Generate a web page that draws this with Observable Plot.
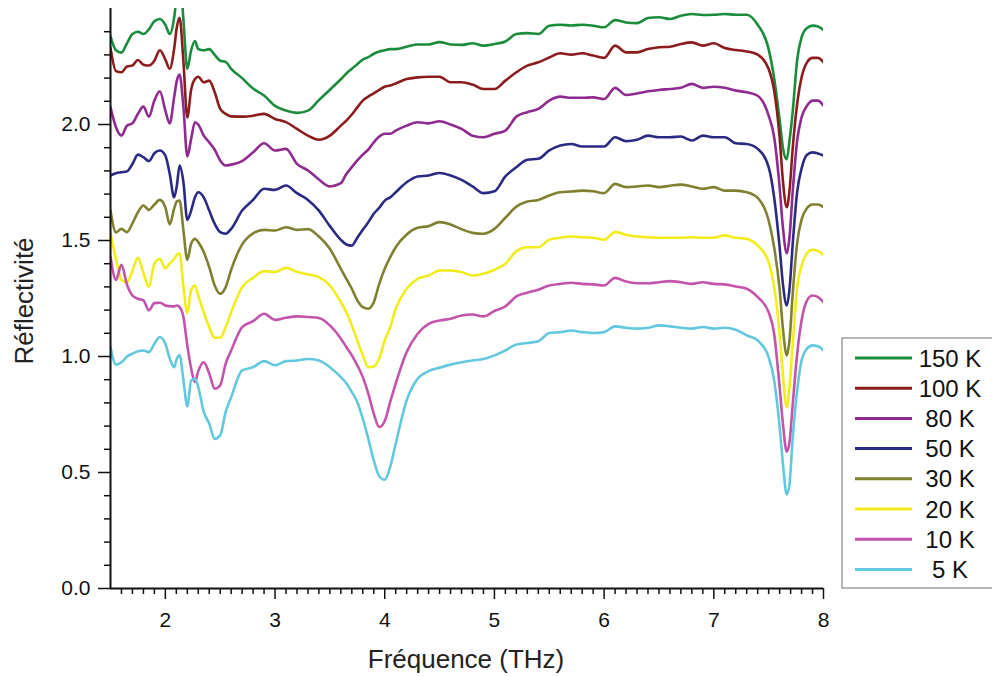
<!DOCTYPE html>
<html>
<head>
<meta charset="utf-8">
<script src="https://cdn.jsdelivr.net/npm/d3@7"></script>
<script src="https://cdn.jsdelivr.net/npm/@observablehq/plot@0.6"></script>
<style>
  body { margin: 0; background: #fff; }
  #chart { position: relative; width: 992px; height: 677px; overflow: hidden; }
</style>
</head>
<body>
<div id="chart"></div>
<script>
// ---- Data ----
const freq = [1.5,1.55,1.6,1.65,1.7,1.75,1.8,1.85,1.9,1.95,2.0,2.04,2.08,2.105,2.13,2.165,2.2,2.235,2.27,
  2.3,2.35,2.4,2.45,2.5,2.55,2.6,2.7,2.8,2.9,3.0,3.1,3.2,3.3,3.4,3.5,3.6,3.65,3.7,3.75,3.8,3.85,3.9,3.95,
  4.0,4.05,4.1,4.2,4.3,4.4,4.5,4.6,4.7,4.8,4.9,5.0,5.1,5.2,5.3,5.4,5.5,5.6,5.7,5.8,5.9,6.0,6.1,6.2,6.3,
  6.4,6.5,6.6,6.7,6.8,6.9,7.0,7.1,7.2,7.3,7.4,7.5,7.55,7.6,7.63,7.665,7.69,7.72,7.76,7.8,7.85,7.9,7.95,8.0];

const seriesNames = ["150 K","100 K","80 K","50 K","30 K","20 K","10 K","5 K"];
const seriesColors = ["#1a8c3c","#8c1c1c","#8e2a90","#2a2a85","#808030","#f2ec1a","#c453ab","#62c8dd"];

const r150K = [2.38,2.32,2.31,2.35,2.39,2.40,2.39,2.41,2.445,2.455,2.43,2.39,2.46,2.56,2.66,2.45,2.24,2.32,2.36,
  2.325,2.32,2.325,2.30,2.275,2.27,2.24,2.20,2.155,2.125,2.08,2.06,2.05,2.06,2.105,2.15,2.195,2.22,2.24,2.26,2.28,2.29,2.305,2.315,
  2.32,2.325,2.325,2.335,2.345,2.345,2.355,2.345,2.343,2.35,2.34,2.347,2.358,2.39,2.394,2.39,2.426,2.43,2.427,2.43,2.426,2.419,2.45,2.44,2.437,
  2.459,2.462,2.455,2.469,2.476,2.472,2.473,2.476,2.473,2.473,2.43,2.325,2.2,2.02,1.90,1.85,1.93,2.06,2.28,2.376,2.416,2.426,2.422,2.407];

const r100K = [2.33,2.23,2.225,2.25,2.254,2.278,2.258,2.254,2.275,2.32,2.28,2.24,2.325,2.42,2.46,2.27,2.03,2.15,2.196,
  2.206,2.182,2.189,2.139,2.067,2.046,2.035,2.034,2.038,2.046,2.024,2.01,1.981,1.952,1.934,1.952,1.995,2.017,2.043,2.074,2.103,2.12,2.134,2.149,
  2.163,2.168,2.177,2.196,2.203,2.206,2.206,2.182,2.182,2.172,2.153,2.153,2.189,2.225,2.254,2.268,2.289,2.307,2.301,2.307,2.297,2.287,2.34,2.311,2.311,
  2.325,2.333,2.335,2.347,2.354,2.34,2.35,2.33,2.321,2.315,2.301,2.239,2.146,1.945,1.758,1.643,1.715,1.902,2.089,2.203,2.268,2.287,2.287,2.268];

const r80K = [2.074,1.988,1.952,1.995,2.005,2.046,2.077,2.034,2.103,2.143,2.06,2.005,2.117,2.189,2.215,2.074,1.862,1.938,2.01,
  2.0,1.952,1.923,1.891,1.845,1.823,1.827,1.842,1.88,1.919,1.888,1.895,1.83,1.802,1.763,1.733,1.747,1.787,1.816,1.845,1.87,1.892,1.923,1.948,
  1.96,1.96,1.974,1.995,2.01,2.005,2.014,2.0,1.981,1.952,1.945,1.96,1.974,2.034,2.053,2.067,2.103,2.12,2.115,2.115,2.117,2.11,2.158,2.127,2.134,
  2.143,2.149,2.153,2.158,2.175,2.158,2.163,2.158,2.146,2.139,2.124,2.038,1.945,1.73,1.557,1.445,1.514,1.715,1.931,2.031,2.081,2.103,2.103,2.081];

const r50K = [1.78,1.79,1.794,1.798,1.83,1.87,1.859,1.842,1.876,1.888,1.866,1.787,1.686,1.737,1.823,1.751,1.589,1.629,1.686,
  1.708,1.686,1.629,1.572,1.536,1.529,1.55,1.629,1.675,1.723,1.718,1.737,1.704,1.675,1.629,1.562,1.503,1.483,1.478,1.512,1.546,1.579,1.615,1.641,
  1.672,1.686,1.708,1.751,1.776,1.78,1.791,1.78,1.761,1.733,1.704,1.712,1.776,1.816,1.848,1.852,1.888,1.909,1.916,1.905,1.905,1.905,1.945,1.928,1.934,
  1.952,1.945,1.945,1.948,1.931,1.952,1.945,1.945,1.919,1.916,1.895,1.816,1.686,1.471,1.313,1.22,1.29,1.49,1.71,1.81,1.87,1.88,1.875,1.866];

const r30K = [1.63,1.535,1.55,1.536,1.574,1.622,1.651,1.632,1.655,1.675,1.643,1.569,1.637,1.669,1.672,1.543,1.417,1.486,1.507,
  1.493,1.45,1.385,1.306,1.27,1.299,1.374,1.483,1.531,1.546,1.543,1.557,1.546,1.549,1.517,1.464,1.378,1.335,1.292,1.242,1.213,1.206,1.234,1.313,
  1.378,1.428,1.471,1.526,1.555,1.562,1.579,1.569,1.549,1.533,1.529,1.55,1.598,1.646,1.668,1.675,1.694,1.708,1.711,1.715,1.712,1.704,1.744,1.73,1.733,
  1.737,1.73,1.736,1.741,1.733,1.723,1.73,1.715,1.715,1.708,1.684,1.586,1.471,1.29,1.12,1.005,1.07,1.275,1.49,1.59,1.64,1.655,1.655,1.643];

const r20K = [1.53,1.42,1.33,1.32,1.37,1.425,1.36,1.30,1.40,1.42,1.38,1.40,1.421,1.438,1.445,1.299,1.187,1.285,1.306,
  1.263,1.191,1.127,1.081,1.081,1.127,1.191,1.299,1.339,1.368,1.364,1.382,1.365,1.354,1.342,1.306,1.234,1.191,1.134,1.069,1.005,0.954,0.957,0.991,
  1.069,1.127,1.206,1.292,1.335,1.349,1.371,1.371,1.364,1.349,1.357,1.374,1.4,1.454,1.471,1.471,1.503,1.512,1.517,1.514,1.512,1.503,1.536,1.525,1.517,
  1.514,1.512,1.512,1.512,1.514,1.512,1.512,1.522,1.512,1.507,1.478,1.407,1.30,1.10,0.92,0.782,0.87,1.06,1.30,1.39,1.445,1.46,1.455,1.436];

const r10K = [1.43,1.33,1.395,1.31,1.263,1.249,1.242,1.199,1.23,1.232,1.22,1.217,1.216,1.22,1.213,1.17,1.048,0.949,0.89,
  0.937,0.975,0.927,0.861,0.876,0.969,1.026,1.127,1.152,1.184,1.158,1.167,1.173,1.17,1.166,1.134,1.077,1.041,1.005,0.962,0.911,0.84,0.754,0.696,
  0.722,0.804,0.883,1.019,1.098,1.141,1.155,1.163,1.177,1.181,1.173,1.196,1.216,1.259,1.275,1.288,1.306,1.313,1.318,1.313,1.311,1.306,1.339,1.323,1.316,
  1.316,1.32,1.325,1.32,1.313,1.32,1.313,1.311,1.302,1.292,1.256,1.191,1.098,0.868,0.711,0.59,0.63,0.797,1.012,1.155,1.242,1.263,1.256,1.234];

const r5K = [1.041,0.965,0.975,1.0,1.012,1.023,1.026,1.019,1.055,1.084,1.055,0.991,0.954,0.991,1.005,0.897,0.785,0.897,0.904,
  0.868,0.761,0.711,0.645,0.66,0.761,0.825,0.94,0.954,0.98,0.962,0.98,0.983,0.989,0.983,0.954,0.911,0.885,0.847,0.804,0.732,0.646,0.553,0.484,
  0.469,0.524,0.624,0.811,0.904,0.937,0.952,0.965,0.975,0.983,0.989,1.005,1.026,1.052,1.058,1.066,1.101,1.105,1.112,1.105,1.101,1.105,1.13,1.124,1.12,
  1.124,1.134,1.13,1.124,1.12,1.127,1.12,1.124,1.115,1.091,1.069,0.997,0.897,0.696,0.538,0.405,0.45,0.653,0.854,0.983,1.034,1.048,1.044,1.026];

const seriesValues = [r150K, r100K, r80K, r50K, r30K, r20K, r10K, r5K];

const xMajorTicks = [2, 3, 4, 5, 6, 7, 8];
const yMajorTicks = [0, 0.5, 1.0, 1.5, 2.0];
const xMinorTicks = d3.range(16, 80).filter(d => d % 10 !== 0).map(d => d / 10);
const yMinorTicks = d3.range(1, 25).filter(d => d % 5 !== 0).map(d => d / 10);

// ---- Build table ----
const rows = seriesNames.flatMap((name, i) =>
  freq.map((f, j) => ({ f, r: seriesValues[i][j], name })));

const FONT = "'Liberation Sans', Arial, Helvetica, sans-serif";

const svg = Plot.plot({
  width: 992,
  height: 677,
  marginLeft: 110,
  marginRight: 169,
  marginTop: 8,
  marginBottom: 89,
  x: { domain: [1.5, 8] },
  y: { domain: [0, 2.5] },
  color: { domain: seriesNames, range: seriesColors },
  style: { fontFamily: FONT, background: "#fff", color: "#111", overflow: "hidden" },
  marks: [
    Plot.line(rows, { x: "f", y: "r", z: "name", stroke: "name", strokeWidth: 2.6,
      curve: "monotone-x", clip: true }),
    Plot.axisX(xMinorTicks, { tickSize: 6, text: null, label: null, strokeWidth: 1.5, stroke: "#111" }),
    Plot.axisX(xMajorTicks, { tickSize: 11, tickPadding: 13, fontSize: 21, label: null,
      strokeWidth: 1.5, stroke: "#111", tickFormat: d => String(d) }),
    Plot.axisY(yMinorTicks, { tickSize: 6, text: null, label: null, strokeWidth: 1.5, stroke: "#111" }),
    Plot.axisY(yMajorTicks, { tickSize: 12, tickPadding: 8, fontSize: 21, label: null,
      strokeWidth: 1.5, stroke: "#111", tickFormat: d3.format(".1f") }),
    Plot.ruleX([1.5], { stroke: "#111", strokeWidth: 2 }),
    Plot.ruleY([0], { stroke: "#111", strokeWidth: 2 })
  ]
});

const s = d3.select(svg);

// Axis titles
s.append("text")
  .attr("x", 466).attr("y", 668)
  .attr("text-anchor", "middle")
  .attr("font-family", FONT).attr("font-size", 26).attr("fill", "#222")
  .text("Fréquence (THz)");

s.append("text")
  .attr("transform", "translate(33,301) rotate(-90)")
  .attr("text-anchor", "middle")
  .attr("font-family", FONT).attr("font-size", 26).attr("fill", "#222")
  .text("Réflectivité");

// Legend
const lg = s.append("g");
lg.append("rect")
  .attr("x", 842).attr("y", 338).attr("width", 170).attr("height", 250)
  .attr("fill", "#fff").attr("stroke", "#888").attr("stroke-width", 1.2);
seriesNames.forEach((name, i) => {
  const y = 358 + i * 30.2;
  lg.append("line")
    .attr("x1", 855).attr("x2", 912).attr("y1", y).attr("y2", y)
    .attr("stroke", seriesColors[i]).attr("stroke-width", 3);
  lg.append("text")
    .attr("x", 950).attr("y", y + 8.6)
    .attr("text-anchor", "middle")
    .attr("font-family", FONT).attr("font-size", 24).attr("fill", "#111")
    .text(name);
});

document.getElementById("chart").appendChild(svg);
</script>
</body>
</html>
